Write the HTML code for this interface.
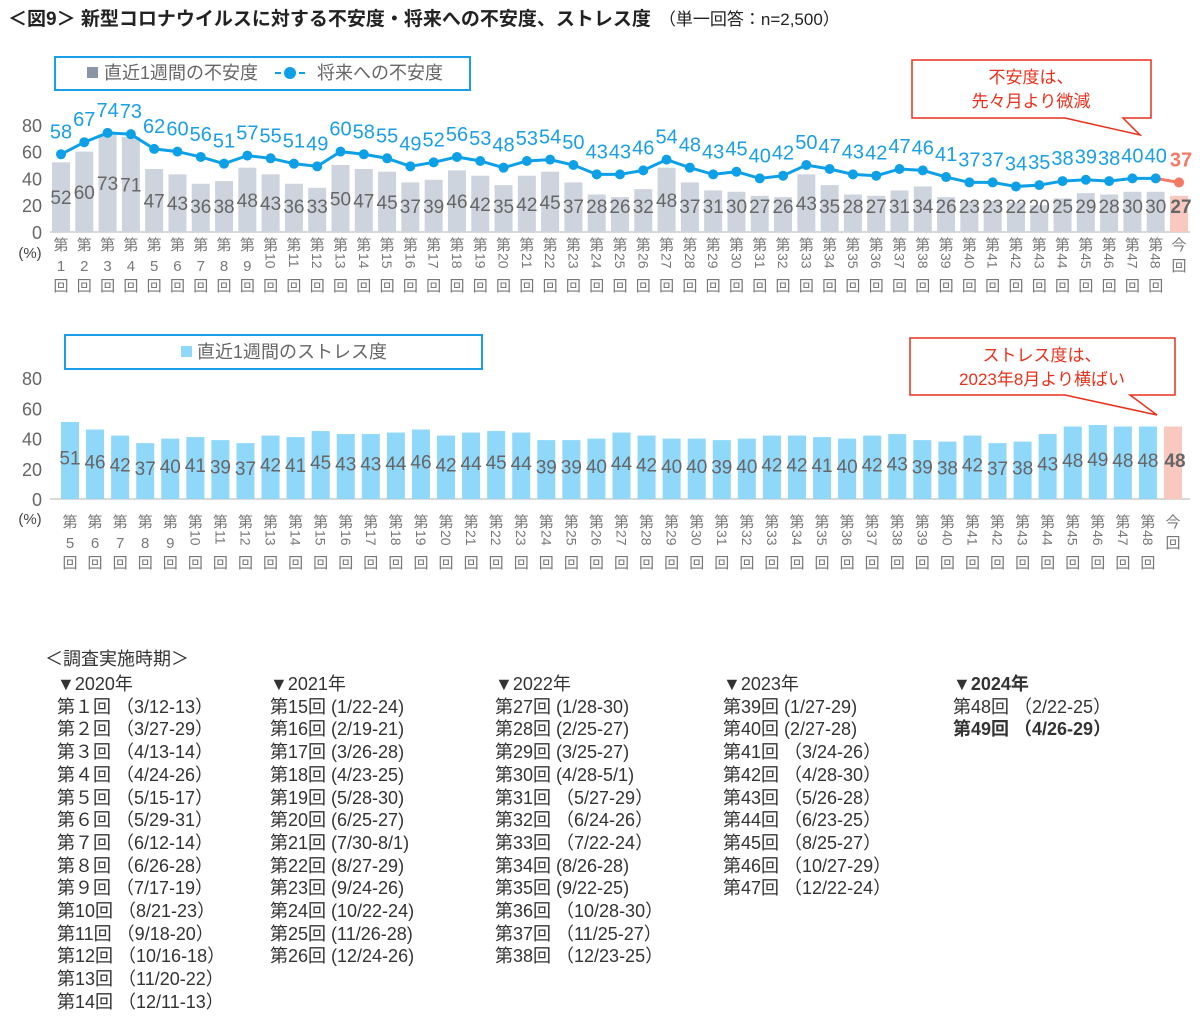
<!DOCTYPE html>
<html><head><meta charset="utf-8">
<style>
body{margin:0;background:#fff;width:1200px;height:1026px;overflow:hidden;font-family:"Liberation Sans","Noto Sans CJK JP",sans-serif;}
svg text{font-family:"Liberation Sans","Noto Sans CJK JP",sans-serif;}
.list{position:absolute;font-size:18px;color:#333;line-height:22.7px;white-space:pre;}
</style></head><body>
<svg id="s" width="1200" height="1026" style="position:absolute;left:0;top:0"></svg>
<div class="list" style="left:45px;top:648px">＜調査実施時期＞</div>
<div class="list" style="left:57px;top:673px">▼2020年
第１回 （3/12-13）
第２回 （3/27-29）
第３回 （4/13-14）
第４回 （4/24-26）
第５回 （5/15-17）
第６回 （5/29-31）
第７回 （6/12-14）
第８回 （6/26-28）
第９回 （7/17-19）
第10回 （8/21-23）
第11回 （9/18-20）
第12回 （10/16-18）
第13回 （11/20-22）
第14回 （12/11-13）</div>
<div class="list" style="left:270px;top:673px">▼2021年
第15回 (1/22-24)
第16回 (2/19-21)
第17回 (3/26-28)
第18回 (4/23-25)
第19回 (5/28-30)
第20回 (6/25-27)
第21回 (7/30-8/1)
第22回 (8/27-29)
第23回 (9/24-26)
第24回 (10/22-24)
第25回 (11/26-28)
第26回 (12/24-26)</div>
<div class="list" style="left:495px;top:673px">▼2022年
第27回 (1/28-30)
第28回 (2/25-27)
第29回 (3/25-27)
第30回 (4/28-5/1)
第31回 （5/27-29）
第32回 （6/24-26）
第33回 （7/22-24）
第34回 (8/26-28)
第35回 (9/22-25)
第36回 （10/28-30）
第37回 （11/25-27）
第38回 （12/23-25）</div>
<div class="list" style="left:723px;top:673px">▼2023年
第39回 (1/27-29)
第40回 (2/27-28)
第41回 （3/24-26）
第42回 （4/28-30）
第43回 （5/26-28）
第44回 （6/23-25）
第45回 （8/25-27）
第46回 （10/27-29）
第47回 （12/22-24）</div>
<div class="list" style="left:953px;top:673px"><b>▼2024年</b>
第48回 （2/22-25）
<b>第49回 （4/26-29）</b></div>
<script>
const s=document.getElementById('s');let h='';
const T=(x,y,t,o)=>{o=o||{};h+=`<text x="${x}" y="${y}" font-size="${o.fs||17}" fill="${o.c||'#666'}" text-anchor="${o.a||'middle'}" ${o.b?'font-weight="bold"':''} ${o.tr?`transform="${o.tr}"`:''}>${t}</text>`;};
h+=`<text x="8" y="25" font-size="19" font-weight="bold" fill="#222">＜図9＞ 新型コロナウイルスに対する不安度・将来への不安度、ストレス度<tspan font-weight="normal" font-size="17" dx="8">（単一回答：n=2,500）</tspan></text>`;
const bars=[52,60,73,71,47,43,36,38,48,43,36,33,50,47,45,37,39,46,42,35,42,45,37,28,26,32,48,37,31,30,27,26,43,35,28,27,31,34,26,23,23,22,20,25,29,28,30,30,27];
const line=[58,67,74,73,62,60,56,51,57,55,51,49,60,58,55,49,52,56,53,48,53,54,50,43,43,46,54,48,43,45,40,42,50,47,43,42,47,46,41,37,37,34,35,38,39,38,40,40,37];
const st=[51,46,42,37,40,41,39,37,42,41,45,43,43,44,46,42,44,45,44,39,39,40,44,42,40,40,39,40,42,42,41,40,42,43,39,38,42,37,38,43,48,49,48,48,48];
function xlab(x,y0,n){
 if(n==null){T(x,y0,'今',{fs:15,c:'#777'});T(x,y0+21,'回',{fs:15,c:'#777'});return;}
 T(x,y0,'第',{fs:15,c:'#777'});
 if(n<10)T(x,y0+21,n,{fs:15,c:'#777'});
 else T(x-5,y0+3,n,{fs:14,c:'#777',a:'start',tr:`rotate(90 ${x-5} ${y0+3})`});
 T(x,y0+41,'回',{fs:15,c:'#777'});
}
let y0=232,k=1.34,x0=61,p=(1179-61)/48;
[0,20,40,60,80].forEach(v=>T(42,y0-v*k+7,v,{fs:18,a:'end'}));
T(30,258,'(%)',{fs:15,c:'#444'});
h+=`<line x1="50" y1="${y0}" x2="1190" y2="${y0}" stroke="#d9d9d9" stroke-width="2"/>`;
bars.forEach((v,i)=>{const x=x0+i*p,last=i==48;h+=`<rect x="${x-9}" y="${y0-v*k}" width="18" height="${v*k}" fill="${last?'#f9c9c0':'#cdd4dd'}"/>`;
 let ly=Math.min(y0-v*k/2+7,213);T(x+(last?2:0),ly,v,{fs:19,c:'#666',b:last});
 xlab(x,250,last?null:i+1);});
let pts=line.map((v,i)=>[x0+i*p,y0-v*k]);
h+=`<polyline points="${pts.slice(0,48).map(q=>q.join(',')).join(' ')}" fill="none" stroke="#0ea0e6" stroke-width="3"/>`;
h+=`<line x1="${pts[47][0]}" y1="${pts[47][1]}" x2="${pts[48][0]}" y2="${pts[48][1]}" stroke="#f47a66" stroke-width="3"/>`;
pts.forEach((q,i)=>{const last=i==48;h+=`<circle cx="${q[0]}" cy="${q[1]}" r="5" fill="${last?'#f47a66':'#0ea0e6'}"/>`;T(q[0]+(last?2:0),q[1]-16,line[i],{fs:20,c:last?'#f47a66':'#1a9ee6',b:last});});
h+=`<rect x="55" y="57" width="415" height="33" fill="#fff" stroke="#1a9ee6" stroke-width="2"/>`;
h+=`<rect x="87" y="67" width="11" height="11" fill="#8896a8"/>`;T(104,79,'直近1週間の不安度',{fs:18,a:'start'});
h+=`<line x1="275" y1="73" x2="305" y2="73" stroke="#0ea0e6" stroke-width="2" stroke-dasharray="6 6"/><circle cx="290" cy="73" r="6" fill="#0ea0e6"/>`;T(317,79,'将来への不安度',{fs:18,a:'start'});
h+=`<path d="M912,60 H1151 V118 H1123 L1140,135 L1065,118 H912 Z" fill="#fff" stroke="#e8301c" stroke-width="1.5"/>`;
T(1031,83,'不安度は、',{fs:17,c:'#e8301c'});T(1031,107,'先々月より微減',{fs:17,c:'#e8301c'});
y0=499;k=1.51;x0=70;p=(1173-70)/44;
[0,20,40,60,80].forEach(v=>T(42,y0-v*k+7,v,{fs:18,a:'end'}));
T(30,524,'(%)',{fs:15,c:'#444'});
h+=`<line x1="50" y1="${y0}" x2="1190" y2="${y0}" stroke="#d9d9d9" stroke-width="2"/>`;
st.forEach((v,i)=>{const x=x0+i*p,last=i==44;h+=`<rect x="${x-9}" y="${y0-v*k}" width="18" height="${v*k}" fill="${last?'#f9c9c0':'#8fd8fa'}"/>`;
 T(x+(last?2:0),y0-v*k/2+4,v,{fs:19,c:'#666',b:last});xlab(x,527,last?null:i+5);});
h+=`<rect x="65" y="335" width="417" height="34" fill="#fff" stroke="#1a9ee6" stroke-width="2"/>`;
h+=`<rect x="181" y="346" width="11" height="11" fill="#8fd8fa"/>`;T(197,358,'直近1週間のストレス度',{fs:18,a:'start'});
h+=`<path d="M910,338 H1175 V395 H1130 L1157,415 L1065,395 H910 Z" fill="#fff" stroke="#e8301c" stroke-width="1.5"/>`;
T(1042,361,'ストレス度は、',{fs:17,c:'#e8301c'});T(1042,385,'2023年8月より横ばい',{fs:17,c:'#e8301c'});
s.innerHTML=h;
</script>
</body></html>
